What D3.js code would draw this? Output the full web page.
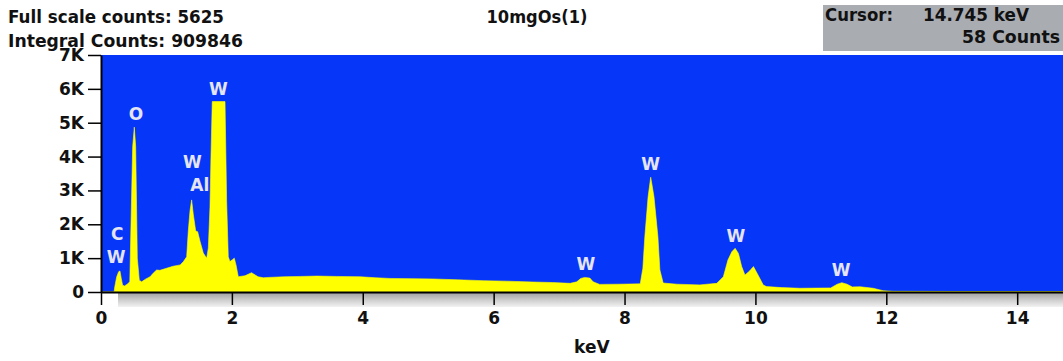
<!DOCTYPE html>
<html>
<head>
<meta charset="utf-8">
<script src="https://cdn.jsdelivr.net/npm/d3@7"></script>
<style>
  body { margin: 0; background: #fff; }
  svg text { font-family: "DejaVu Sans", Verdana, sans-serif; font-weight: bold; }
</style>
</head>
<body>
<div id="chart"></div>
<script>
// spectrum (keV, counts)
var energies = [0.00, 0.20, 0.21, 0.24, 0.27, 0.29, 0.31, 0.33, 0.36, 0.40, 0.44,
    0.458, 0.484, 0.509, 0.530, 0.555, 0.585, 0.62, 0.68, 0.75, 0.80, 0.85, 0.90, 1.00, 1.10, 1.21,
    1.26, 1.309, 1.334, 1.36, 1.385, 1.41, 1.447, 1.477, 1.513, 1.563, 1.615, 1.64, 1.665, 1.68,
    1.70, 1.895, 1.92, 1.945, 1.97, 2.006, 2.037, 2.063, 2.098, 2.20, 2.30, 2.40, 2.48,
    2.55, 2.80, 3.05, 3.30, 3.60, 3.96, 4.20, 4.42, 4.75, 5.07, 5.45, 5.84, 6.20, 6.60, 6.90, 7.17,
    7.27, 7.33, 7.39, 7.47, 7.52, 7.62, 7.90, 8.24, 8.28, 8.31, 8.36, 8.40, 8.45, 8.51, 8.54, 8.59,
    8.80, 9.15, 9.41, 9.51, 9.58, 9.64, 9.69, 9.74, 9.79, 9.84, 9.91, 9.97, 10.04, 10.12, 10.17,
    10.40, 10.68, 10.95, 11.15, 11.25, 11.32, 11.40, 11.48, 11.60, 11.80, 11.95, 12.10, 13.00, 14.70];
var counts = [0, 0, 150, 450, 600, 620, 400, 200, 180, 230, 300,
    1980, 4290, 4870, 4290, 1000, 350, 300, 380, 450, 560, 650, 640, 700, 760, 800,
    900, 1040, 1800, 2400, 2720, 2300, 1800, 1780, 1500, 1150, 1000, 1300, 2500, 3960,
    5625, 5625, 2670, 1040, 900, 950, 1000, 800, 450, 480, 570, 450, 420,
    430, 450, 460, 470, 460, 450, 420, 400, 395, 385, 360, 335, 320, 295, 280, 255,
    300, 400, 430, 410, 300, 225, 230, 240, 700, 1630, 2810, 3390, 2810, 1630, 650, 265,
    230, 210, 255, 450, 945, 1190, 1290, 1140, 750, 500, 620, 750, 500, 205, 160,
    130, 110, 115, 120, 230, 275, 230, 150, 155, 110, 40, 20, 15, 15];

var yTicks = [0, 1000, 2000, 3000, 4000, 5000, 6000, 7000];
var xTicks = [0, 2, 4, 6, 8, 10, 12, 14];

var peakNames  = ["W", "C", "O", "W", "Al", "W", "W", "W", "W", "W"];
var peakKeV    = [0.23, 0.25, 0.535, 1.395, 1.51, 1.795, 7.41, 8.40, 9.70, 11.31];
var peakCounts = [860, 1540, 5080, 3660, 2970, 5820, 650, 3600, 1490, 470];

var W = 1063, H = 361;
var plot = { left: 101, right: 1063, top: 55, bottom: 292 };

var svg = d3.select("#chart").append("svg")
    .attr("width", W).attr("height", H);

var x = d3.scaleLinear().domain([0, 14.7]).range([plot.left, plot.right]);
var y = d3.scaleLinear().domain([0, 7000]).range([plot.bottom, plot.top]);

// shadow strip under the axis
var grad = svg.append("defs").append("linearGradient")
    .attr("id", "shade").attr("x1", 0).attr("y1", 0).attr("x2", 0).attr("y2", 1);
grad.append("stop").attr("offset", "0%").attr("stop-color", "#9c9c9c");
grad.append("stop").attr("offset", "55%").attr("stop-color", "#cfcfcf");
grad.append("stop").attr("offset", "100%").attr("stop-color", "#f2f2f2");
svg.append("rect")
    .attr("x", 118).attr("y", plot.bottom)
    .attr("width", W - 118).attr("height", 15)
    .attr("fill", "url(#shade)");

// blue plot background
svg.append("rect")
    .attr("x", plot.left).attr("y", plot.top)
    .attr("width", plot.right - plot.left).attr("height", plot.bottom - plot.top)
    .attr("fill", "#0636f8");

// spectrum
var area = d3.area()
    .x(function(d, i) { return x(energies[i]); })
    .y0(y(0))
    .y1(function(d) { return y(d); });

svg.append("path")
    .datum(counts)
    .attr("d", area)
    .attr("fill", "#ffff00")
    .attr("stroke", "#ffff00")
    .attr("stroke-width", 0.6);

// peak labels
svg.selectAll(".peak")
    .data(peakNames)
    .enter()
  .append("text")
    .attr("class", "peak")
    .attr("x", function(d, i) { return x(peakKeV[i]); })
    .attr("y", function(d, i) { return y(peakCounts[i]); })
    .attr("text-anchor", "middle")
    .attr("font-size", 17)
    .attr("fill", "#e4e4f4")
    .text(function(d) { return d; });

// axes
var yAxis = d3.axisLeft(y)
    .tickValues(yTicks)
    .tickSize(13).tickSizeOuter(0).tickPadding(4)
    .tickFormat(function(d) { return d === 0 ? "0" : (d / 1000) + "K"; });

var xAxis = d3.axisBottom(x)
    .tickValues(xTicks)
    .tickSize(13).tickSizeOuter(0).tickPadding(7)
    .tickFormat(d3.format("d"));

var gx = svg.append("g")
    .attr("transform", "translate(0," + plot.bottom + ")")
    .call(xAxis);
var gy = svg.append("g")
    .attr("transform", "translate(" + plot.left + ",0)")
    .call(yAxis);

[gx, gy].forEach(function(g) {
    g.select(".domain").attr("stroke", "#000").attr("stroke-width", 2);
    g.selectAll(".tick line").attr("stroke", "#000").attr("stroke-width", 1.5);
    g.selectAll(".tick text")
        .attr("fill", "#111")
        .style("font-size", "17px")
        .style("font-family", "'DejaVu Sans', Verdana, sans-serif")
        .style("font-weight", "bold");
});

svg.append("text")
    .attr("x", x(7.5)).attr("y", 353)
    .attr("text-anchor", "middle")
    .attr("font-size", 17).attr("fill", "#111")
    .text("keV");

// header texts, widths matched to the reference
function label(tx, ty, str, len, anchor) {
    return svg.append("text")
        .attr("x", tx).attr("y", ty)
        .attr("text-anchor", anchor || "start")
        .attr("font-size", 17).attr("fill", "#111")
        .attr("textLength", len).attr("lengthAdjust", "spacingAndGlyphs")
        .text(str);
}
label(8, 23, "Full scale counts: 5625", 216);
label(8, 47, "Integral Counts: 909846", 235);
label(537, 23, "10mgOs(1)", 101, "middle");

// cursor box
svg.append("rect")
    .attr("x", 823).attr("y", 5)
    .attr("width", W - 823).attr("height", 46)
    .attr("fill", "#a9acb1");
label(825, 21, "Cursor:", 68);
label(1029, 21, "14.745 keV", 106, "end");
label(1060, 43, "58 Counts", 98, "end");
</script>
</body>
</html>
